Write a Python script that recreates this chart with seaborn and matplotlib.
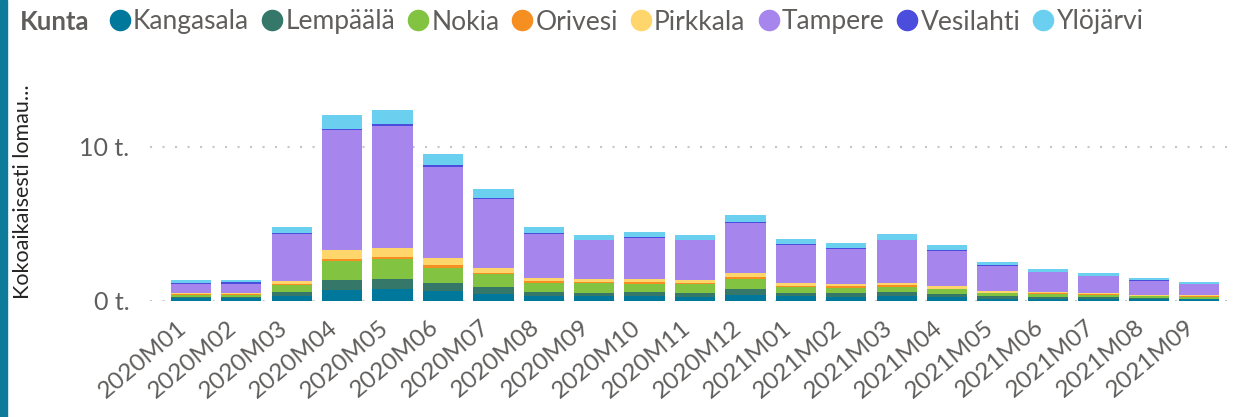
import matplotlib
matplotlib.use("Agg")
import matplotlib.pyplot as plt
import matplotlib.transforms as mtransforms
from matplotlib.lines import Line2D
from matplotlib.patches import Rectangle
import numpy as np
import pandas as pd
import seaborn as sns

months = [f"2020M{m:02d}" for m in range(1, 13)] + [f"2021M{m:02d}" for m in range(1, 10)]

kangasala = [175, 175, 325, 715, 780, 650, 460, 350, 350, 350, 280, 390, 325, 260, 325, 260, 130, 130, 110, 130, 110]
lempaala = [90, 70, 260, 650, 650, 520, 455, 240, 175, 240, 240, 390, 195, 260, 260, 195, 195, 130, 130, 65, 45]
nokia = [130, 150, 435, 1215, 1300, 1000, 850, 585, 650, 520, 610, 650, 390, 350, 325, 305, 195, 215, 120, 130, 130]
orivesi = [75, 75, 110, 150, 130, 175, 65, 130, 85, 130, 65, 130, 65, 110, 130, 45, 20, 45, 85, 15, 20]
pirkkala = [20, 20, 175, 585, 585, 455, 325, 195, 175, 195, 175, 260, 195, 130, 130, 175, 130, 65, 55, 65, 65]
tampere = [640, 630, 3060, 7810, 7940, 5920, 4470, 2860, 2540, 2670, 2600, 3255, 2470, 2280, 2800, 2280, 1630, 1300, 1110, 910, 740]
vesilahti = [15, 85, 65, 65, 130, 130, 65, 65, 15, 65, 15, 65, 65, 65, 20, 20, 65, 20, 15, 65, 15]
ylojarvi = [195, 130, 390, 910, 910, 715, 610, 390, 325, 325, 325, 455, 325, 325, 390, 325, 195, 195, 195, 130, 130]

kunnat = ["Kangasala", "Lempäälä", "Nokia", "Orivesi", "Pirkkala", "Tampere", "Vesilahti", "Ylöjärvi"]
colors = ["#00789b", "#357768", "#82c341", "#f58f22", "#ffd66b", "#a686ec", "#4b4ddd", "#6bcff0"]

df = pd.DataFrame(
    dict(zip(kunnat, [kangasala, lempaala, nokia, orivesi, pirkkala, tampere, vesilahti, ylojarvi])),
    index=months,
)
cum = df.cumsum(axis=1)

sns.set_theme(style="white")
plt.rcParams["font.family"] = ["Lato", "DejaVu Sans"]

W, H = 1239, 417
fig = plt.figure(figsize=(W / 100, H / 100), dpi=100)
ax = fig.add_axes([150 / W, 116 / H, 1085 / W, 241 / H])

# draw cumulative totals from top layer down so each layer covers the one above
for kunta, color in zip(kunnat[::-1], colors[::-1]):
    sns.barplot(x=months, y=cum[kunta].values, color=color, width=0.8,
                saturation=1, linewidth=0, ax=ax)

ymax = 241 / 154 * 10000
ax.set_ylim(0, ymax)
ax.set_xlim(-0.81, 20.71)
for s in ax.spines.values():
    s.set_visible(False)

ax.set_yticks([0, 10000])
ax.set_yticklabels(["0 t.", "10 t."])
for yv in [0, 10000]:
    ax.axhline(yv, color="#c8c6c4", lw=1.5, ls=(0, (1, 5)), zorder=0)
ax.tick_params(axis="y", length=0, pad=15, labelsize=18, labelcolor="#605e5c")
ax.tick_params(axis="x", length=0, pad=17, labelsize=17.5, labelcolor="#605e5c")

offset = mtransforms.ScaledTranslation(-7 / 100, 0, fig.dpi_scale_trans)
for lab in ax.get_xticklabels():
    lab.set_rotation(40)
    lab.set_ha("right")
    lab.set_va("center")
    lab.set_rotation_mode("anchor")
    lab.set_transform(lab.get_transform() + offset)

ax.set_xlabel("")
ax.set_ylabel("Kokoaikaisesti lomau...", fontsize=15.5, color="#252423")
ax.yaxis.set_label_coords((33 - 150) / 1085, 0.452)

# legend row
fig.text(20 / W, 1 - 22 / H, "Kunta", fontsize=18.5, fontweight="bold",
         color="#605e5c", va="center", ha="left")
handles = [Line2D([], [], marker="o", ls="", markersize=14.5, color=c) for c in colors]
fig.legend(handles, kunnat, loc="center left", bbox_to_anchor=(110 / W, 1 - 22 / H),
           ncol=8, frameon=False, fontsize=19, handlelength=0.75, handletextpad=0.12,
           columnspacing=0.5, borderpad=0, borderaxespad=0, labelcolor="#605e5c")

# accent stripe on the left edge
fig.patches.append(Rectangle((0, 0), 7 / W, 1, transform=fig.transFigure,
                             color="#0e7b9b", zorder=5))

fig.savefig("out.png", dpi=100)
